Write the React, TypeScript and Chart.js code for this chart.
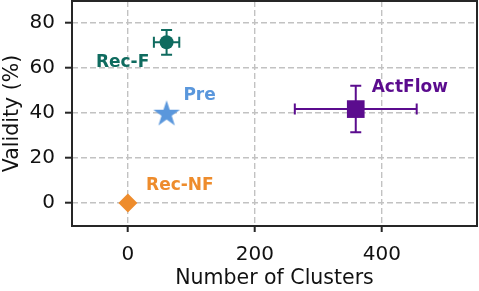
import React, { useEffect, useRef } from "react";
import { Chart, registerables } from "chart.js";

Chart.register(...registerables);

// ---- data ----
const methods = ["Rec-F", "Pre", "ActFlow", "Rec-NF"];
const clusters = [61, 61, 359, 0];
const validity = [71.2, 40, 41.6, 0];
const clusterErr = [20, 0, 96, 0];
const validityErr = [5.5, 0, 10.3, 0];
const colors = ["#0f6b5f", "#5a97dc", "#5b0c8e", "#ee8c2c"];
const xTicks = [0, 200, 400];
const yTicks = [0, 20, 40, 60, 80];
const xRange = [-88, 550];
const yRange = [-10.2, 89.5];

const FONT = "'DejaVu Sans', 'Noto Sans', sans-serif";

function makeStar(color: string, outer: number): HTMLCanvasElement {
  const c = document.createElement("canvas");
  const s = Math.ceil(outer * 2 + 2);
  c.width = s;
  c.height = s;
  const ctx = c.getContext("2d")!;
  const cx = s / 2;
  const cy = s / 2 + outer * 0.1;
  const inner = outer * 0.382;
  ctx.beginPath();
  for (let k = 0; k < 10; k++) {
    const r = k % 2 === 0 ? outer : inner;
    const a = -Math.PI / 2 + (k * Math.PI) / 5;
    const x = cx + r * Math.cos(a);
    const y = cy + r * Math.sin(a);
    if (k === 0) ctx.moveTo(x, y);
    else ctx.lineTo(x, y);
  }
  ctx.closePath();
  ctx.fillStyle = color;
  ctx.fill();
  return c;
}

const labelOffsets = [
  [-44, 20],
  [33, -17],
  [54, -22],
  [52, -17],
];

const errorBarPlugin = {
  id: "errorBars",
  beforeDatasetsDraw(chart: any) {
    const { ctx } = chart;
    const xs = chart.scales.x;
    const ys = chart.scales.y;
    ctx.save();
    ctx.lineWidth = 2;
    for (let i = 0; i < methods.length; i++) {
      const col = colors[i];
      ctx.strokeStyle = col;
      const px = xs.getPixelForValue(clusters[i]);
      const py = ys.getPixelForValue(validity[i]);
      const cap = 5.5;
      if (clusterErr[i] > 0) {
        const x0 = xs.getPixelForValue(clusters[i] - clusterErr[i]);
        const x1 = xs.getPixelForValue(clusters[i] + clusterErr[i]);
        ctx.beginPath();
        ctx.moveTo(x0, py);
        ctx.lineTo(x1, py);
        ctx.moveTo(x0, py - cap);
        ctx.lineTo(x0, py + cap);
        ctx.moveTo(x1, py - cap);
        ctx.lineTo(x1, py + cap);
        ctx.stroke();
      }
      if (validityErr[i] > 0) {
        const y0 = ys.getPixelForValue(validity[i] - validityErr[i]);
        const y1 = ys.getPixelForValue(validity[i] + validityErr[i]);
        ctx.beginPath();
        ctx.moveTo(px, y0);
        ctx.lineTo(px, y1);
        ctx.moveTo(px - cap, y0);
        ctx.lineTo(px + cap, y0);
        ctx.moveTo(px - cap, y1);
        ctx.lineTo(px + cap, y1);
        ctx.stroke();
      }
    }
    ctx.restore();
  },
};

const framePlugin = {
  id: "frame",
  beforeDatasetsDraw(chart: any) {
    const { ctx, chartArea } = chart;
    ctx.save();
    ctx.strokeStyle = "#262626";
    ctx.lineWidth = 2;
    ctx.strokeRect(
      chartArea.left,
      chartArea.top,
      chartArea.right - chartArea.left,
      chartArea.bottom - chartArea.top
    );
    ctx.restore();
  },
};

const labelPlugin = {
  id: "pointLabels",
  afterDatasetsDraw(chart: any) {
    const { ctx } = chart;
    const xs = chart.scales.x;
    const ys = chart.scales.y;
    ctx.save();
    ctx.font = `bold 17px ${FONT}`;
    ctx.textAlign = "center";
    ctx.textBaseline = "middle";
    for (let i = 0; i < methods.length; i++) {
      const px = xs.getPixelForValue(clusters[i]);
      const py = ys.getPixelForValue(validity[i]);
      ctx.fillStyle = colors[i];
      ctx.fillText(methods[i], px + labelOffsets[i][0], py + labelOffsets[i][1]);
    }
    ctx.restore();
  },
};

function zeroPad(s: any) {
  s.paddingTop = 0;
  s.paddingBottom = 0;
  s.paddingLeft = 0;
  s.paddingRight = 0;
}

export default function App() {
  const ref = useRef<HTMLCanvasElement | null>(null);
  useEffect(() => {
    document.body.style.margin = "0";
    const star = makeStar(colors[1], 14);
    const chart = new Chart(ref.current!, {
      type: "scatter",
      data: {
        datasets: [
          {
            data: clusters.map((x, i) => ({ x, y: validity[i] })),
            pointStyle: ["circle", star, "rect", "rectRot"] as any,
            pointRadius: [7, 13, 12.5, 9.5],
            backgroundColor: colors,
            borderColor: colors,
            borderWidth: 0,
            clip: false,
          },
        ],
      },
      options: {
        animation: false,
        responsive: false,
        devicePixelRatio: 1,
        layout: { padding: { top: 1, right: 2, left: 0, bottom: 0 } },
        plugins: { legend: { display: false }, tooltip: { enabled: false } },
        scales: {
          x: {
            type: "linear",
            min: xRange[0],
            max: xRange[1],
            afterBuildTicks: (s: any) => {
              s.ticks = xTicks.map((v) => ({ value: v }));
            },
            afterFit: (s: any) => {
              s.height = 65;
              zeroPad(s);
            },
            border: { display: false, dash: [6, 3] },
            grid: {
              color: "#c2c2c2",
              lineWidth: 1.4,
              tickColor: "#262626",
              tickLength: 6,
              tickWidth: 2,
              tickBorderDash: [],
            },
            ticks: {
              color: "#111",
              font: { family: FONT, size: 20 },
              padding: 11,
              maxRotation: 0,
            },
            title: {
              display: true,
              text: "Number of Clusters",
              color: "#111",
              font: { family: FONT, size: 20.5 },
              padding: { top: 0, bottom: 0 },
            },
          },
          y: {
            type: "linear",
            min: yRange[0],
            max: yRange[1],
            afterBuildTicks: (s: any) => {
              s.ticks = yTicks.map((v) => ({ value: v }));
            },
            afterFit: (s: any) => {
              s.width = 72;
              zeroPad(s);
            },
            border: { display: false, dash: [6, 3] },
            grid: {
              color: "#c2c2c2",
              lineWidth: 1.4,
              tickColor: "#262626",
              tickLength: 7,
              tickWidth: 2,
              tickBorderDash: [],
            },
            ticks: {
              color: "#111",
              font: { family: FONT, size: 20 },
              padding: 10,
            },
            title: {
              display: true,
              text: "Validity (%)",
              color: "#111",
              font: { family: FONT, size: 20.5 },
              padding: { top: 0, bottom: 0 },
            },
          },
        },
      },
      plugins: [framePlugin, errorBarPlugin, labelPlugin],
    } as any);
    // markers may overflow the plot area, as in the reference; do not shrink it for them
    const ctrl: any = chart.getDatasetMeta(0).controller;
    ctrl.getMaxOverflow = () => 0;
    chart.update();
    return () => chart.destroy();
  }, []);
  return (
    <div style={{ width: 479, height: 291 }}>
      <canvas ref={ref} width={479} height={291} />
    </div>
  );
}
